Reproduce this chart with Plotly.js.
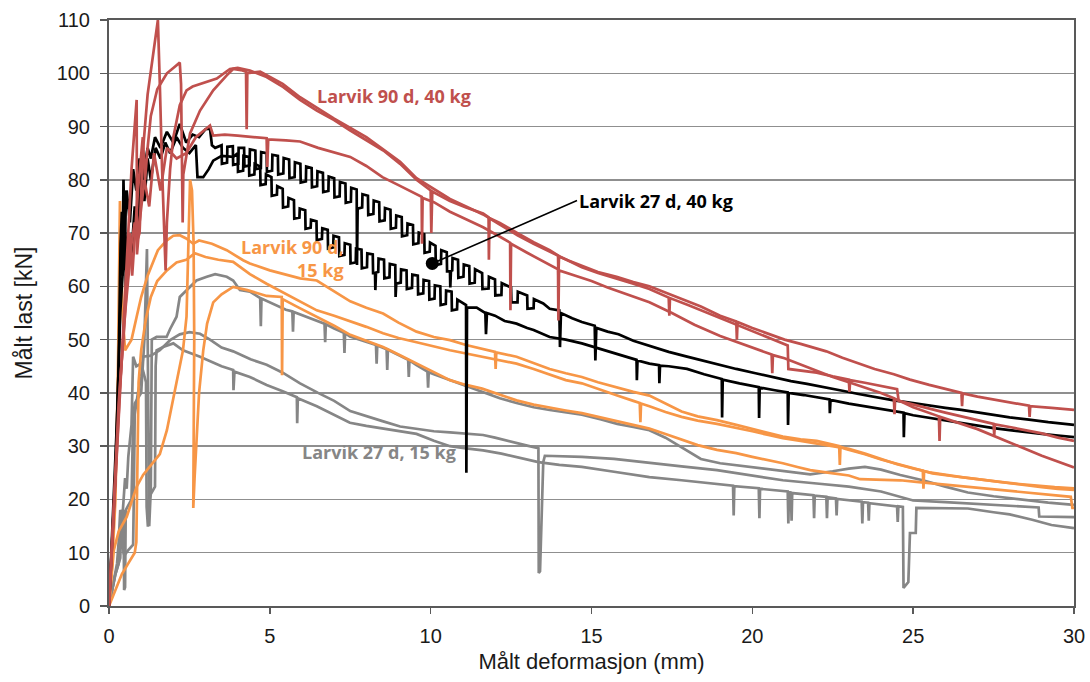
<!DOCTYPE html>
<html>
<head>
<meta charset="utf-8">
<script src="https://cdn.plot.ly/plotly-3.0.1.min.js"></script>
<style>html,body{margin:0;padding:0;background:#fff;}#chart{width:1090px;height:682px;}</style>
</head>
<body>
<div id="chart"></div>
<script>
// ---- Data: [deformation mm, load kN] ----
const red1 = [[0,0],[0.15,18],[0.35,42],[0.5,55],[0.6,62],[0.7,68],[0.8,72],[0.9,69],[0.95,70],[1.05,85],[1.2,96],[1.35,103],[1.45,107],[1.52,110],[1.58,98],[1.65,82],[1.76,63],[1.8,72],[1.9,82],[2.0,88],[2.2,94],[2.41,96.8],[2.6,97.5],[2.83,98],[3.1,98.6],[3.35,99],[3.76,100.8],[4.0,101],[4.38,100.5],[4.9,99.3],[5.42,97.4],[5.94,95],[6.46,93],[7.0,91.2],[7.49,89.3],[8.0,87.5],[8.53,85.5],[9.05,83],[9.56,80],[10.0,78],[10.02,70],[10.05,77.8],[10.6,76],[11.1,74.8],[11.63,73.7],[11.8,73],[11.81,65],[11.83,72.8],[12.15,71.9],[12.7,70],[13.2,68.3],[13.7,66.8],[13.96,65.8],[13.97,61.7],[13.99,65.6],[14.3,64.8],[14.7,63.8],[15.2,62.7],[15.78,61.8],[16.3,60.8],[16.8,60],[17.3,58.8],[17.85,57.6],[18.4,56.2],[19.0,54.5],[19.5,53.4],[19.52,50],[19.54,53.3],[20.0,52.2],[20.6,50.8],[21.0,50],[21.5,49.2],[22.0,48.3],[22.3,47.8],[22.8,46.6],[23.3,45.6],[23.8,44.5],[24.4,43.5],[24.9,42.5],[25.5,41.5],[26.0,40.7],[26.5,40],[26.52,37.5],[26.54,39.9],[27.0,39.3],[27.5,38.8],[28.0,38.2],[28.6,37.6],[28.62,35.5],[28.64,37.5],[29.3,37.2],[30,36.8]];
const red2 = [[0,0],[0.3,38],[0.5,55],[0.65,70],[0.72,62],[0.8,70],[0.9,78],[1.05,88],[1.12,80],[1.2,86],[1.3,92],[1.5,97],[1.8,100],[2.0,101],[2.2,102],[2.24,98],[2.27,86],[2.29,72],[2.31,81],[2.52,88.7],[2.83,93],[3.24,96.8],[3.66,99.6],[3.86,100.8],[4.1,100.6],[4.26,100.3],[4.28,89.5],[4.3,100],[4.7,100.3],[5.4,98],[5.94,95.5],[6.46,93.5],[7.0,91.5],[7.49,89.8],[8.0,88],[8.5,85.8],[9.05,83.4],[9.56,80.3],[10.1,78.2],[10.6,76.4],[11.1,75],[11.63,73.5],[12.15,71.6],[12.7,69.6],[13.2,68],[13.7,66.5],[14.2,65],[14.7,63.6],[15.2,62.5],[15.78,61.5],[16.3,60.5],[16.8,59.5],[17.4,57.9],[17.42,54.5],[17.44,57.8],[18.0,56.5],[18.6,55],[19.0,54],[19.5,52.8],[20.0,51.6],[20.6,50.1],[21.1,48.9],[21.12,44.5],[21.5,44.2],[22.0,43.8],[22.5,43.1],[23.0,42.5],[23.02,40.2],[23.04,42.4],[23.5,41.9],[24.0,41.3],[24.5,40.7],[24.55,38.5],[25.0,37.8],[25.5,37],[26.0,36.3],[26.5,35.6],[27.0,34.9],[27.5,34.2],[27.52,32],[27.54,34.1],[28.0,33.6],[28.5,33],[29.0,32.4],[29.5,31.6],[30,31]];
const red3 = [[0,0],[0.25,30],[0.5,60],[0.7,82],[0.86,95],[0.87,66],[0.95,72],[1.1,80],[1.25,75],[1.4,85],[1.6,78],[1.8,86],[2.1,84],[2.4,85],[2.7,88],[2.9,89],[3.14,90.2],[3.24,88.3],[3.6,88.5],[4.0,88.3],[4.5,88],[4.9,87.8],[4.92,82.4],[4.95,87.6],[5.5,87.4],[5.94,87.2],[6.5,86],[7.0,85.2],[7.5,84.3],[8.0,82.6],[8.5,80.5],[9.0,79],[9.56,77.4],[9.72,76.8],[9.73,68],[9.75,76.6],[10.1,75.8],[10.6,74],[11.1,72.6],[11.63,71.1],[12.1,69.5],[12.47,68.2],[12.48,55.5],[12.5,68],[13.0,66.3],[13.7,64],[13.96,63.2],[13.97,53.6],[13.99,63],[14.5,62],[15.0,61],[15.5,59.8],[16.2,58.3],[16.8,57],[17.5,55],[18.2,52.8],[19.0,50.7],[19.8,49],[20.0,48.5],[20.6,47.2],[20.62,43.7],[20.64,47.1],[21.0,46.5],[22.0,44.2],[22.5,43],[23.0,42],[24.0,40],[24.4,39],[24.42,36],[24.44,38.9],[25.0,37.3],[25.8,35.6],[25.82,31],[25.84,35.5],[26.5,34.2],[27.0,33.2],[28.0,30.7],[29.0,28.2],[30,26]];

const black1 = [[0,0],[0.1,12],[0.2,25],[0.3,45],[0.36,68],[0.4,74],[0.42,62],[0.45,80],[0.48,70],[0.55,78],[0.65,72],[0.75,82],[0.85,78],[0.95,84],[1.05,80],[1.2,86],[1.3,84],[1.43,88],[1.6,86],[1.8,89],[2.0,87],[2.2,90.5],[2.4,87],[2.6,88.5],[2.8,88],[3.0,89.5],[3.14,89.6],[3.2,86.5],[3.3,86],
 [3.5,86.5],[3.51,83],[3.67,83.2],[3.68,86.2],
 [3.85,86.3],[3.86,82.8],[4.02,83],[4.03,86],
 [4.2,86],[4.21,82.5],[4.37,82.7],[4.38,85.7],
 [4.55,85.5],[4.56,82],[4.72,82.2],[4.73,85.2],
 [4.9,85],[4.91,81.5],[5.07,81.7],[5.08,84.7],
 [5.25,84.5],[5.26,81],[5.42,81.2],[5.43,84.1],
 [5.6,83.8],[5.61,80.3],[5.77,80.5],[5.78,83.3],
 [5.95,83],[5.96,79.5],[6.12,79.7],[6.13,82.5],
 [6.3,82.2],[6.31,78.6],[6.47,78.8],[6.48,81.6],
 [6.65,81.3],[6.66,77.7],[6.82,77.9],[6.83,80.6],
 [7.0,80.3],[7.01,76.7],[7.17,76.9],[7.18,79.6],
 [7.35,79.3],[7.36,75.7],[7.52,75.9],[7.53,78.5],
 [7.7,78.2],[7.71,64],[7.73,74.6],[7.87,74.8],[7.88,77.3],
 [8.05,77],[8.06,73.4],[8.22,73.6],[8.23,76.1],
 [8.4,75.8],[8.41,72.2],[8.57,72.4],[8.58,74.7],
 [8.75,74.4],[8.76,70.8],[8.92,71],[8.93,73.3],
 [9.1,73],[9.11,69.4],[9.27,69.6],[9.28,71.8],
 [9.45,71.5],[9.46,67.9],[9.62,68.1],[9.63,70.1],
 [9.8,69.8],[9.81,66.3],[9.97,66.5],[9.98,68.2],
 [10.15,67.6],[10.16,64],[10.32,64.2],[10.33,66.8],
 [10.5,66.4],[10.51,62.8],[10.6,62.8],[10.61,59.8],[10.63,62.9],[10.67,63],[10.68,65.3],
 [10.85,65],[10.86,61.6],[11.02,61.8],[11.03,64.1],
 [11.2,63.8],[11.21,60.5],[11.37,60.7],[11.38,63.2],
 [11.6,62.5],[11.61,59.5],[11.8,59.6],[11.81,61.8],[12.0,61.3],[12.01,58.3],[12.2,58.4],[12.21,60.6],[12.5,59.8],[12.51,57],[12.7,57],[12.71,59],[13.0,58.3],[13.01,55.8],[13.2,55.9],[13.21,57.6],[13.5,56.8],[13.7,55.8],[14.0,55.5],[14.02,48.6],[14.05,55],[14.4,54],[14.7,53.3],[15.1,52.6],[15.12,46.1],[15.15,52.2],[15.5,51.5],[15.84,51],[16.3,49.8],[16.8,48.8],[17.4,47.7],[17.97,46.8],[18.5,46],[19.0,45.2],[19.5,44.5],[20.1,43.7],[20.6,43],[21.2,42.2],[21.7,41.7],[22.25,41.1],[22.8,40.4],[23.3,39.8],[23.8,39.2],[24.4,38.6],[25,38.1],[25.5,37.6],[26,37.2],[26.5,36.8],[27,36.3],[27.5,35.8],[28,35.4],[28.6,35],[29.2,34.5],[30,34]];
const black2 = [[0,0],[0.15,20],[0.25,35],[0.35,55],[0.45,65],[0.5,78],[0.52,60],[0.6,70],[0.7,66],[0.8,75],[0.9,72],[1.0,82],[1.1,76],[1.2,84],[1.3,80],[1.45,86],[1.6,84],[1.75,87],[1.9,85],[2.1,88],[2.3,86],[2.5,85],[2.7,86.5],[2.75,80.5],[2.93,80.5],[3.1,82],[3.24,83.6],[3.5,84.5],[3.86,84.3],
 [4.0,85],[4.01,81.5],[4.17,81.7],[4.18,84.5],
 [4.35,84.3],[4.36,80.8],[4.52,81],[4.53,83],
 [4.7,82.5],[4.71,79],[4.87,79.2],[4.88,81],
 [5.05,80.5],[5.06,77],[5.22,77.2],[5.23,78.8],
 [5.4,78.3],[5.41,74.8],[5.57,75],[5.58,76.6],
 [5.75,76.2],[5.76,72.7],[5.92,72.9],[5.93,74.6],
 [6.1,74.3],[6.11,70.8],[6.27,71],[6.28,72.5],
 [6.45,72.2],[6.46,68.7],[6.62,68.9],[6.63,70.9],
 [6.8,70.6],[6.81,67.1],[6.97,67.3],[6.98,69.5],
 [7.15,69.2],[7.16,65.7],[7.32,65.9],[7.33,68.1],
 [7.5,67.8],[7.51,64.3],[7.67,64.5],[7.68,67.1],
 [7.85,66.9],[7.86,63.4],[8.02,63.6],[8.03,66.2],
 [8.2,66],[8.21,62.5],[8.27,62.5],[8.28,59.3],[8.3,62.6],[8.37,62.7],[8.38,65.2],
 [8.55,65],[8.56,61.5],[8.72,61.7],[8.73,64.2],
 [8.9,64],[8.91,58],[8.93,60.5],[9.07,60.7],[9.08,63.2],
 [9.25,63],[9.26,59.5],[9.42,59.7],[9.43,62.2],
 [9.6,62],[9.61,58.5],[9.77,58.7],[9.78,61.2],
 [9.95,61],[9.96,57.5],[10.12,57.7],[10.13,60.2],
 [10.3,60],[10.31,56.5],[10.47,56.7],[10.48,59.2],
 [10.65,59],[10.66,55.5],[10.82,55.7],[10.83,57.5],
 [11.1,56.5],[11.11,25],[11.13,56],[11.43,56],[11.7,55],[11.72,51],[11.75,55],[12.0,54.5],[12.3,53.5],[12.67,53],[13.0,52.2],[13.2,51.8],[13.7,50.5],[14.2,50],[14.7,49.3],[15.25,48.3],[15.8,47.4],[16.3,46.4],[16.4,46.2],[16.41,42.4],[16.43,46.1],[16.8,45.5],[17.1,45.2],[17.11,41.8],[17.13,45.1],[17.4,45],[17.97,44.5],[18.5,43.5],[19.05,42.6],[19.06,35.4],[19.08,42.5],[19.6,41.8],[20.2,41.1],[20.21,35.3],[20.23,41],[20.7,40.5],[21.1,40.1],[21.11,34],[21.13,40],[21.6,39.6],[22.0,39.2],[22.4,38.8],[22.41,36.2],[22.43,38.7],[23,38],[23.5,37.5],[24,37],[24.7,36.3],[24.71,31.7],[24.73,36.2],[25,35.8],[25.5,35.3],[26,34.8],[26.5,34.3],[27,33.8],[27.5,33.4],[28,33],[28.5,32.6],[29,32.3],[29.5,32],[30,31.7]];

const orange1 = [[0,0],[0.1,8],[0.2,20],[0.28,45],[0.34,76],[0.37,66],[0.42,55],[0.5,48],[0.7,50],[0.86,54.3],[1.0,58],[1.2,62],[1.52,66.8],[1.79,68.6],[2.0,69.5],[2.2,69.6],[2.4,69],[2.62,68],[2.8,68.6],[3.2,68],[3.66,66.8],[4.17,64.9],[4.38,64.3],[5.0,63],[5.94,61.5],[6.46,61.1],[7.0,59],[7.5,57.2],[8.0,56],[8.52,54.9],[9.0,53.2],[9.56,51.5],[10.1,50.5],[10.6,49.9],[11.1,49],[11.6,48.2],[12.0,47.7],[12.02,44.5],[12.04,47.6],[12.67,46.8],[13.2,45.6],[13.7,44.5],[14.2,43.7],[14.7,43],[15.2,42],[15.8,41],[16.3,40.2],[16.8,39.5],[17.3,38],[17.8,36.5],[18.3,35.6],[18.9,34.9],[19.5,34],[20,33.2],[20.5,32.4],[20.95,31.8],[21.5,31.3],[22,31],[22.5,30.3],[22.7,30],[22.72,26.5],[22.74,29.9],[22.9,29.5],[23.5,28.5],[24,27.5],[24.8,26.2],[25.6,24.9],[26.2,24.4],[26.7,24],[27.2,23.6],[27.7,23.3],[28.3,22.9],[28.8,22.6],[29.4,22.3],[30,22.1]];
const orange2 = [[0,0],[0.4,6],[0.6,8],[0.8,10],[0.85,12],[0.88,30],[0.92,42],[1.0,48],[1.15,54],[1.3,58],[1.5,61],[1.8,63],[2.1,64.5],[2.4,65],[2.67,66.2],[3.0,65.5],[3.4,65],[3.86,64.6],[4.38,62.3],[4.9,60.5],[5.5,58.6],[6.0,57],[6.46,55.5],[7.0,54.5],[7.5,53.5],[8.0,52.4],[8.52,51.2],[9.0,50.3],[9.56,49.5],[10.1,48.7],[10.6,48],[11.1,47.4],[11.6,46.8],[12.15,46.1],[12.67,45.5],[13.2,44.5],[13.7,43.5],[14.2,42.4],[14.7,41.8],[15.2,40.7],[15.8,39.5],[16.3,38.5],[16.5,38.1],[16.52,34.5],[16.54,38],[16.8,37.5],[17.3,36.4],[17.8,35.5],[18.3,34.8],[18.9,34.2],[19.5,33.5],[20,32.8],[20.5,32.1],[20.95,31.5],[21.5,31],[22,30.5],[22.5,30],[23,29.5],[23.5,28.6],[24,27.6],[24.5,26.6],[25,25.8],[25.3,25.4],[25.32,22],[25.34,25.3],[25.5,25.1],[26,24.6],[26.5,24.2],[27,23.8],[27.5,23.4],[28,23],[28.5,22.6],[29,22.3],[29.5,22],[30,21.8]];
const orange3 = [[0,0],[0.1,8],[0.15,10.5],[0.3,14],[0.55,16.7],[0.7,19.5],[0.86,22.4],[1.06,24.6],[1.37,26.8],[1.58,28.5],[1.8,33],[2.1,42],[2.3,48],[2.41,54.3],[2.47,68],[2.52,80],[2.58,78],[2.63,68],[2.65,50],[2.64,30],[2.62,18.4],[2.66,24],[2.72,32],[2.8,40],[2.93,48],[3.05,53],[3.24,57],[3.5,58.5],[3.86,59.9],[4.3,59.3],[4.9,58.2],[5.37,58],[5.38,43.3],[5.4,57.6],[5.9,56],[6.46,54.3],[7.0,52.6],[7.5,50.9],[8.0,49.7],[8.52,48.6],[9.0,47.2],[9.56,45.6],[10.1,43.9],[10.6,42.4],[11.1,41.5],[11.6,40.8],[12.15,39.7],[12.67,38.6],[13.2,37.8],[13.7,37.2],[14.2,36.7],[14.7,36.2],[15.2,35.5],[15.8,34.8],[16.3,34],[16.8,33.3],[17.3,32.3],[17.8,31.2],[18.3,30.2],[18.9,29.3],[19.5,28.7],[20,28],[20.5,27.4],[20.95,26.8],[21.4,26.1],[21.8,25.5],[22.4,25],[23,24.5],[23.35,23.8],[24,23.7],[24.6,23.6],[25.1,23.3],[25.6,23],[26.2,22.7],[26.7,22.4],[27.3,22],[28,21.6],[28.5,21.3],[29,21],[29.5,20.7],[29.9,20.5],[29.95,18.4],[30,18.4]];

const gray1 = [[0,0],[0.2,6],[0.3,8],[0.45,18],[0.47,3],[0.5,3.5],[0.52,18],[0.7,20],[0.75,35],[0.8,38],[1.0,40],[1.1,50],[1.18,67],[1.22,30],[1.25,15],[1.3,22],[1.33,50],[1.48,50.5],[1.79,50.5],[1.9,52],[2.1,54.3],[2.2,58],[2.41,59.3],[2.72,61.1],[3.04,61.8],[3.3,62.3],[3.66,61.8],[3.86,61.1],[4.07,59.3],[4.38,59],[4.7,57.8],[4.72,52.5],[4.74,57.7],[5.0,57],[5.5,55.6],[5.7,55.3],[5.72,51.5],[5.74,55.2],[6.0,54.6],[6.46,53.6],[6.7,53],[6.72,49.5],[6.74,52.9],[7.0,52.1],[7.3,51.3],[7.32,47.5],[7.34,51.2],[7.49,50.6],[8.0,49.6],[8.3,49],[8.32,45.5],[8.34,48.9],[8.63,48.2],[8.65,44.3],[8.67,48.1],[9.0,47.1],[9.3,46.2],[9.32,43],[9.34,46.1],[9.56,45.2],[9.9,44],[9.92,41],[9.94,43.9],[10.1,43.5],[10.6,42.4],[11.1,41.2],[11.63,40.1],[12.15,39],[12.67,38.1],[13.2,37.3],[13.7,36.8],[14.2,36.4],[14.7,35.9],[15.3,35],[15.8,34.2],[16.3,33.6],[16.8,33],[17.3,31.6],[17.8,29.8],[18.4,27.6],[19.0,26.8],[20.0,26],[21.0,25.2],[21.8,24.7],[22.5,25.3],[23.0,25.8],[23.5,26.1],[24.0,25.6],[24.6,24.6],[25.3,23.6],[26.0,22.4],[26.7,21.3],[27.5,20.6],[28.3,20],[29.2,19.4],[30,19]];
const gray2 = [[0,0],[0.2,6],[0.35,9],[0.4,18],[0.45,10],[0.48,9.5],[0.6,10.5],[0.75,11.5],[0.77,20],[0.8,36],[0.9,40],[1.0,43],[1.06,46.8],[1.3,47],[1.58,48],[1.9,49.9],[2.2,51],[2.5,51.4],[2.83,51.1],[3.14,50],[3.5,48.5],[3.86,47.8],[4.4,46.3],[4.9,45.3],[5.4,43.8],[5.94,41.8],[6.5,40],[7.0,38.5],[7.5,36.6],[8.0,35.6],[8.5,34.7],[9.05,33.7],[9.56,33.2],[10.1,32.8],[10.6,32.6],[11.1,32.4],[11.63,32.1],[12.0,31.6],[12.5,30.8],[13.0,30.1],[13.35,29.6],[13.36,6.2],[13.4,6.5],[13.45,18],[13.5,27],[13.55,28.2],[14.2,28.1],[14.7,28],[15.7,27.6],[16.8,26.8],[17.8,26.2],[18.9,25.5],[20.0,24.5],[20.95,23.6],[22.0,23],[23.0,22.4],[24.0,21.5],[24.6,20.5],[25.0,19.8],[26.0,19.5],[27.0,19.2],[28.0,18.8],[28.9,18.5],[28.92,16.8],[30,16.7]];
const gray3 = [[0,0],[0.25,8],[0.3,12],[0.35,18],[0.42,17],[0.45,20],[0.5,24],[0.55,22],[0.6,28],[0.7,34],[0.75,46.8],[0.85,45],[1.0,45.5],[1.15,42],[1.17,18.6],[1.21,14.9],[1.25,20],[1.3,21],[1.43,22.4],[1.45,45],[1.48,48],[1.68,48.6],[2.0,49.3],[2.3,48],[2.83,46.8],[3.5,45],[3.86,44.3],[3.87,40.5],[3.9,44],[4.38,43],[4.9,41.5],[5.4,40.3],[5.84,39.2],[5.85,34.3],[5.87,39],[6.46,37.5],[7.0,35.8],[7.49,34.4],[8.0,33.8],[8.5,33.3],[9.05,32.8],[9.56,32.3],[10.1,31],[10.6,30],[11.1,29.6],[11.63,29.2],[12.2,28.6],[12.8,27.8],[13.35,27],[14.0,26.5],[14.7,26.1],[15.7,25.2],[16.8,24.2],[17.8,23.6],[18.9,23],[19.4,22.6],[19.42,17],[19.44,22.5],[20.2,22.1],[20.22,16.5],[20.24,22],[20.95,21.7],[21.1,21.5],[21.12,15.5],[21.14,21.4],[21.2,21.3],[21.22,16],[21.24,21.2],[21.9,20.8],[21.92,16.5],[21.94,20.7],[22.3,20.5],[22.32,16.5],[22.34,20.4],[22.6,20.2],[22.62,17],[22.64,20.1],[23.4,19.6],[23.42,15.5],[23.44,19.5],[23.6,19.4],[23.62,16],[23.64,19.3],[24.5,18.7],[24.52,15.8],[24.54,18.7],[24.68,18.6],[24.7,3.4],[24.85,4.5],[24.9,13.7],[25.08,13.7],[25.1,18.4],[26.0,18.4],[26.7,18.3],[27.5,17.6],[28.0,17.2],[28.7,16.2],[29.3,15.2],[30,14.6]];

const markerPoint = [10.05, 64.3];
const labels = ["Larvik 90 d, 40 kg", "Larvik 27 d, 40 kg", "Larvik 90 d,<br>15 kg", "Larvik 27 d, 15 kg"];
const axisTitles = {x: "Målt deformasjon (mm)", y: "Målt last [kN]"};

// ---- Styles ----
const RED = 'rgb(192,80,77)', BLACK = '#000000', ORANGE = 'rgb(247,150,70)', GRAY = 'rgb(134,134,134)';
const LABEL_FONT = 'Open Sans, Lato, Liberation Sans, sans-serif';
const AXIS_FONT = 'Liberation Sans, Arial, sans-serif';

function tr(pts, color) {
  return {type:'scatter', mode:'lines', x:pts.map(p=>p[0]), y:pts.map(p=>p[1]),
          line:{color:color, width:2.7}, hoverinfo:'skip'};
}

const data = [
  tr(gray1, GRAY), tr(gray2, GRAY), tr(gray3, GRAY),
  tr(orange1, ORANGE), tr(orange2, ORANGE), tr(orange3, ORANGE),
  tr(black1, BLACK), tr(black2, BLACK),
  tr(red1, RED), tr(red2, RED), tr(red3, RED),
  {type:'scatter', mode:'markers', x:[markerPoint[0]], y:[markerPoint[1]],
   marker:{color:BLACK, size:13}, hoverinfo:'skip'}
];

const layout = {
  width:1090, height:682,
  margin:{l:109, r:16, t:20, b:76, pad:0},
  paper_bgcolor:'#ffffff', plot_bgcolor:'#ffffff',
  showlegend:false,
  xaxis:{
    range:[0,30], tick0:0, dtick:5, showgrid:false, zeroline:false,
    showline:true, linecolor:'#595959', linewidth:2, mirror:true,
    ticks:'outside', ticklen:6, tickwidth:1.5, tickcolor:'#595959',
    ticklabelstandoff:5,
    tickfont:{family:AXIS_FONT, size:20, color:'#1a1a1a'},
    title:{text:axisTitles.x, font:{family:AXIS_FONT, size:22, color:'#1a1a1a'}, standoff:8}
  },
  yaxis:{
    range:[0,110], tick0:0, dtick:10, showgrid:true, gridcolor:'#8f8f8f', gridwidth:1.5,
    zeroline:false, showline:true, linecolor:'#595959', linewidth:2, mirror:true,
    ticks:'outside', ticklen:7, tickwidth:1.5, tickcolor:'#595959',
    ticklabelstandoff:6,
    tickfont:{family:AXIS_FONT, size:20, color:'#1a1a1a'},
    title:{text:axisTitles.y, font:{family:AXIS_FONT, size:23, color:'#1a1a1a'}, standoff:18}
  },
  annotations:[
    {x:8.86, y:95.8, xref:'x', yref:'y', text:'<b>'+labels[0]+'</b>', showarrow:false,
     font:{family:LABEL_FONT, size:18, color:RED}},
    {x:markerPoint[0], y:markerPoint[1], xref:'x', yref:'y', ax:14.55, ay:76.1, axref:'x', ayref:'y',
     text:'<b>'+labels[1]+'</b>', showarrow:true, arrowhead:0, arrowwidth:1.6, arrowcolor:BLACK,
     xanchor:'left', yanchor:'middle', standoff:0,
     font:{family:LABEL_FONT, size:18, color:BLACK}},
    {x:7.37, y:65.2, xref:'x', yref:'y', text:'<b>'+labels[2]+'</b>', showarrow:false,
     xanchor:'right', align:'right', font:{family:LABEL_FONT, size:18, color:ORANGE}},
    {x:8.38, y:28.9, xref:'x', yref:'y', text:'<b>'+labels[3]+'</b>', showarrow:false,
     font:{family:LABEL_FONT, size:18, color:GRAY}}
  ]
};

Plotly.newPlot('chart', data, layout, {displayModeBar:false, staticPlot:true});
</script>
</body>
</html>
